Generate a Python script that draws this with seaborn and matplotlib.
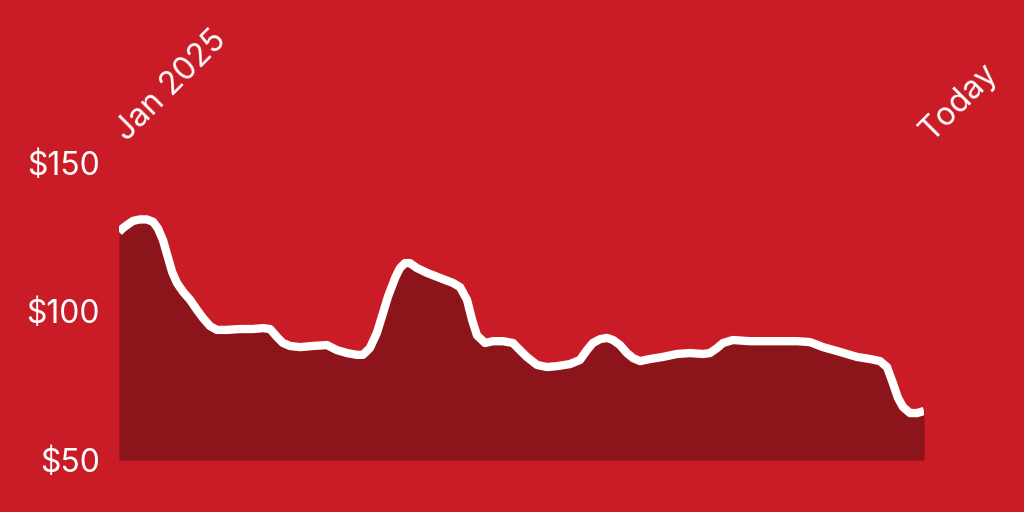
import matplotlib
matplotlib.use("Agg")
import matplotlib.pyplot as plt
import matplotlib.transforms as mtransforms
import seaborn as sns
import pandas as pd

BG = "#C91C26"
FILL = "#8B151B"

days = [0.0, 1.5, 3.0, 5.2, 7.8, 10.4, 12.7, 14.5, 16.4, 18.3, 19.8, 21.6, 23.9,
        26.5, 29.1, 31.3, 33.9, 36.5, 40.2, 45.1, 49.9, 53.7, 56.3, 58.9, 61.1,
        63.7, 67.5, 72.3, 77.5, 81.2, 85.0, 88.7, 90.9, 93.5, 96.1, 98.4, 100.2,
        102.9, 104.7, 106.6, 108.4, 111.1, 114.8, 119.6, 124.5, 127.1, 129.7,
        131.6, 133.4, 136.4, 139.4, 143.1, 146.8, 149.4, 152.0, 155.8, 159.5,
        163.2, 168.1, 171.8, 174.4, 176.6, 179.3, 181.9, 184.1, 186.7, 189.3,
        191.6, 194.2, 197.9, 202.7, 207.9, 212.8, 217.6, 220.2, 222.9, 225.1,
        228.8, 235.2, 242.6, 252.7, 257.5, 262.4, 268.7, 275.0, 279.9, 283.6,
        286.2, 288.4, 290.3, 292.2, 294.8, 297.4, 300.0]
price = [126.8, 128.1, 129.1, 130.5, 131.0, 131.0, 130.2, 128.0, 124.0, 118.0,
         113.3, 109.6, 106.6, 103.9, 100.5, 97.8, 95.1, 93.8, 93.8, 94.1, 94.1,
         94.4, 94.1, 91.4, 89.4, 88.4, 88.0, 88.4, 88.7, 87.0, 86.0, 85.4, 85.4,
         87.7, 92.8, 99.5, 104.9, 111.3, 114.6, 116.3, 116.3, 114.6, 113.0, 111.3,
         109.6, 108.2, 103.9, 97.1, 92.0, 89.4, 90.0, 90.0, 89.4, 87.0, 84.7, 82.0,
         81.3, 81.6, 82.3, 83.7, 87.0, 89.4, 90.7, 91.1, 90.4, 88.7, 86.0, 84.3,
         83.3, 84.0, 84.7, 85.7, 86.0, 85.7, 86.0, 87.7, 89.4, 90.4, 90.0, 90.0,
         90.0, 89.7, 88.0, 86.4, 84.7, 84.0, 83.3, 81.3, 75.9, 70.9, 67.8, 65.8,
         65.8, 66.5]
y_ticks = [50, 100, 150]
y_labels = ["$50", "$100", "$150"]
x_labels = ["Jan 2025", "Today"]

df = pd.DataFrame({"day": days, "price": price})

sns.set_theme(style="white")
plt.rcParams["font.family"] = ["Inter", "DejaVu Sans"]

fig = plt.figure(figsize=(10.24, 5.12), dpi=100, facecolor=BG)
ax = fig.add_axes([119/1024, 1-460/512, (924-119)/1024, (460-163)/512])
ax.set_facecolor(BG)

ax.fill_between(df["day"], df["price"], 50, color=FILL, linewidth=0)
sns.lineplot(data=df, x="day", y="price", ax=ax, color="white", linewidth=6,
             solid_joinstyle="round", solid_capstyle="butt")

ax.set_xlim(days[0], days[-1])
ax.set_ylim(50, 150)
for s in ax.spines.values():
    s.set_visible(False)

ax.set_yticks(y_ticks)
ax.set_yticklabels(y_labels)
ax.xaxis.tick_top()
ax.set_xticks([days[0], days[-1]])
ax.set_xticklabels(x_labels, rotation=45, ha="left", va="baseline",
                   rotation_mode="anchor")
ax.tick_params(axis="y", length=0, pad=14, labelsize=23, labelcolor="white")
ax.tick_params(axis="x", length=0, pad=15, labelsize=23, labelcolor="white")
offset = mtransforms.ScaledTranslation(8/100, 0, fig.dpi_scale_trans)
for lab in ax.get_xticklabels():
    lab.set_transform(lab.get_transform() + offset)
ax.set_xlabel("")
ax.set_ylabel("")
ax.grid(False)

fig.savefig("out.png", dpi=100, facecolor=BG)
